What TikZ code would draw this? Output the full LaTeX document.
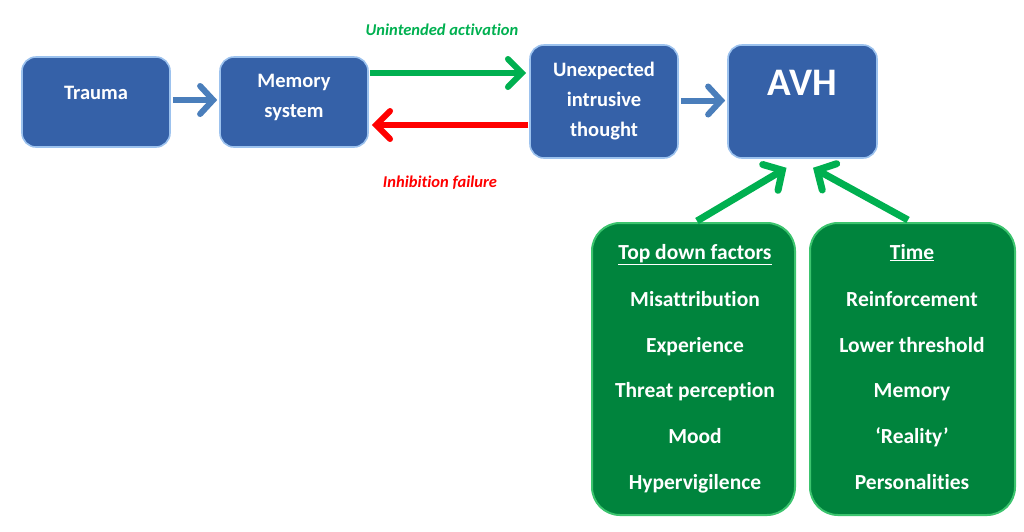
\documentclass[tikz,border=0pt]{standalone}
\usepackage{fontspec}
\setmainfont{Carlito}[Ligatures={NoCommon}]
\usetikzlibrary{arrows.meta}
\definecolor{boxblue}{HTML}{3561A8}
\definecolor{edgeblue}{HTML}{9CC2EE}
\definecolor{boxgreen}{HTML}{00843D}
\definecolor{edgegreen}{HTML}{3CC46E}
\definecolor{arrblue}{HTML}{4A7EBB}
\definecolor{arrgreen}{HTML}{00B050}
\definecolor{arrred}{HTML}{FF0000}
\tikzset{
  bluebox/.style={rectangle, rounded corners=14pt, fill=boxblue, draw=edgeblue, line width=1.6pt, minimum width=148pt, minimum height=90pt, inner sep=0pt},
  greenbox/.style={rectangle, rounded corners=28pt, fill=boxgreen, draw=edgegreen, line width=2pt, minimum width=203pt, minimum height=292pt, inner sep=0pt},
  btxt/.style={text=white, font=\bfseries\fontsize{20.5}{30}\selectfont, align=center, inner sep=0pt},
  gtxt/.style={text=white, font=\bfseries\fontsize{21.5}{24}\selectfont, inner sep=0pt, text height=14pt, text depth=0pt},
  blab/.style={font=\bfseries\itshape\fontsize{16.5}{20}\selectfont, inner sep=0pt},
  bluearrow/.style={draw=arrblue, line width=6pt, -{Straight Barb[length=13pt,width=28pt,line cap=round]}},
  garrow/.style={draw=arrgreen, line width=6pt, -{Straight Barb[length=14pt,width=28pt,line cap=round]}},
  rarrow/.style={draw=arrred, line width=6pt, -{Straight Barb[length=14pt,width=28pt,line cap=round]}},
  darrow/.style={draw=arrgreen, line width=7pt, -{Straight Barb[length=14pt,width=30pt,line cap=round]}},
}
\begin{document}
\begin{tikzpicture}[x=1pt,y=-1pt]
\useasboundingbox (0,0) rectangle (1024,531);
% blue boxes
\node[bluebox] (trauma) at (96,102) {};
\node[btxt] (traumat) at (96,93) {Trauma};
\node[bluebox] (memory) at (294,102) {};
\node[btxt] (memoryt) at (294,97) {Memory\\system};
\node[bluebox, minimum height=113pt] (unexp) at (604,101.5) {};
\node[btxt] (unexpt) at (604,101.5) {Unexpected\\intrusive\\thought};
\node[bluebox, minimum width=149pt, minimum height=113pt] (avh) at (802.5,101.5) {};
\node[btxt, font=\bfseries\fontsize{39}{40}\selectfont] (avht) at (802.5,83) {AVH};
% green boxes
\node[greenbox] (tdf) at (693.5,369) {};
\node[greenbox, minimum width=205pt] (time) at (912.5,369) {};
\node[gtxt] (t1) at (695,252) {\underline{Top down factors}};
\node[gtxt] (t2) at (695,299) {Misattribution};
\node[gtxt] (t3) at (695,345) {Experience};
\node[gtxt] (t4) at (695,390) {Threat perception};
\node[gtxt] (t5) at (695,436) {Mood};
\node[gtxt] (t6) at (695,482) {Hypervigilence};
\node[gtxt] (s1) at (912,252) {\underline{Time}};
\node[gtxt] (s2) at (912,299) {Reinforcement};
\node[gtxt] (s3) at (912,345) {Lower threshold};
\node[gtxt] (s4) at (912,390) {Memory};
\node[gtxt] (s5) at (912,436) {‘Reality’};
\node[gtxt] (s6) at (912,482) {Personalities};
% labels
\node[blab, text=arrgreen] (ua) at (442,30) {Unintended activation};
\node[blab, text=arrred] (ifl) at (440,183) {Inhibition failure};
% arrows
\draw[bluearrow] ([xshift=2pt,yshift=2pt]trauma.east) -- ([xshift=-2pt,yshift=2pt]memory.west);
\draw[bluearrow] ([xshift=2pt,yshift=1pt]unexp.east) -- ([xshift=-2pt,yshift=1pt]avh.west);
\draw[garrow] ([xshift=1pt,yshift=29pt]memory.east) -- ([xshift=-3pt,yshift=28.5pt]unexp.west);
\draw[rarrow] ([xshift=-1pt,yshift=-23.5pt]unexp.west) -- ([xshift=3pt,yshift=-23pt]memory.east);
\draw[darrow] ([xshift=3.5pt,yshift=1pt]tdf.north) -- ([xshift=-16pt,yshift=-9pt]avh.south);
\draw[darrow] ([xshift=-4.5pt,yshift=2pt]time.north) -- ([xshift=10.5pt,yshift=-9pt]avh.south);
\end{tikzpicture}
\end{document}
